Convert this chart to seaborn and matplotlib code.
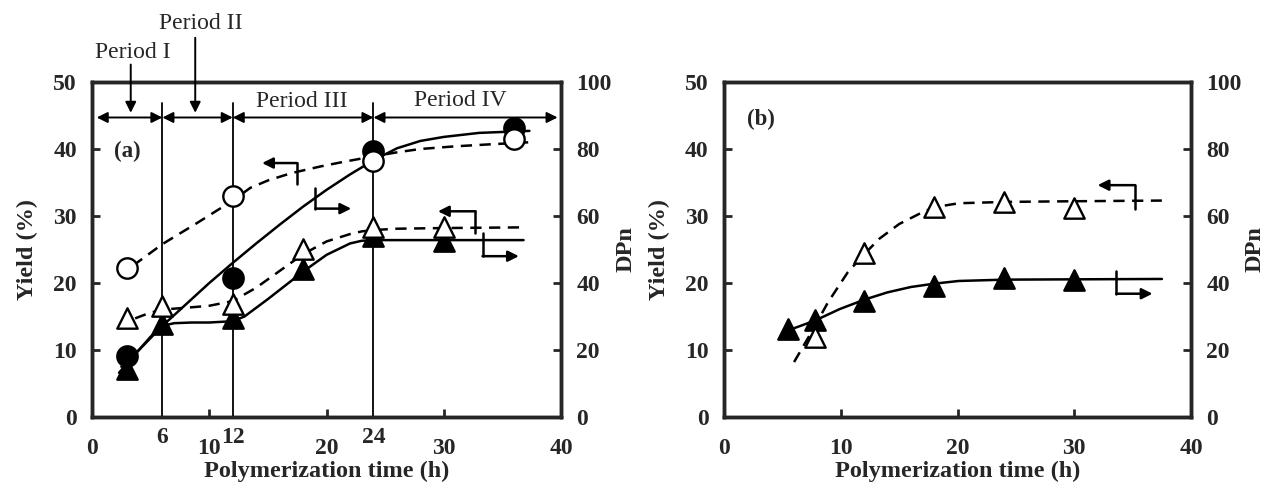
import matplotlib

matplotlib.use("Agg")
import matplotlib.pyplot as plt
import seaborn as sns

# ---------------- panel (a) ----------------
a_t_circle = [3, 12, 24, 36]
a_yield_open_circle = [22.2, 33.0, 38.2, 41.5]
a_dpn_fill_circle = [18.2, 41.4, 79.4, 86.2]

a_t_tri = [3, 6, 12, 18, 24, 30]
a_yield_open_tri = [14.8, 16.6, 16.9, 25.0, 28.4, 28.3]
a_dpn_fill_tri = [14.4, 27.8, 29.6, 44.2, 54.0, 52.4]

# trend curves
a_fit_open_circle_t = [3.5, 6, 9, 12, 13.5, 15, 17, 19.5, 21.5, 24, 26, 28, 31, 34, 37.3]
a_fit_open_circle_y = [22.6, 25.8, 29.0, 32.3, 34.2, 35.3, 36.4, 37.4, 38.1, 38.9, 39.5, 40.0, 40.4, 40.7, 41.0]

a_fit_fill_circle_t = [2.5, 4, 6, 8, 10, 12, 14, 16, 18, 20, 22, 24, 26, 28, 30, 33, 37.3]
a_fit_fill_circle_dpn = [15.0, 20.0, 27.2, 33.6, 40.0, 46.0, 51.8, 57.4, 62.8, 67.8, 72.4, 76.6, 80.2, 82.4, 83.6, 84.8, 85.4]

a_fit_open_tri_t = [2.3, 3.5, 5, 6.5, 8, 10, 12, 14, 16, 18, 20, 22, 23, 24, 26, 30, 36.7]
a_fit_open_tri_y = [13.3, 14.6, 15.6, 16.1, 16.3, 16.6, 17.3, 19.3, 21.8, 24.3, 26.2, 27.3, 27.7, 27.9, 28.1, 28.2, 28.3]

a_fit_fill_tri_t = [2.3, 3.5, 5, 6, 7, 8.5, 10, 12, 13, 15, 18, 20, 22, 23, 24, 27, 36.8]
a_fit_fill_tri_dpn = [13.2, 18.0, 24.0, 27.2, 28.0, 28.2, 28.2, 28.6, 30.0, 35.2, 43.4, 48.4, 51.8, 52.6, 52.8, 52.8, 52.8]

# ---------------- panel (b) ----------------
b_t_open_tri = [7.8, 12, 18, 24, 30]
b_yield_open_tri = [12.0, 24.5, 31.3, 32.1, 31.2]
b_t_fill_tri = [5.5, 7.8, 12, 18, 24, 30]
b_dpn_fill_tri = [26.4, 29.0, 34.6, 39.2, 41.4, 40.8]

b_fit_open_tri_t = [6.0, 7.5, 8.9, 10.6, 11.9, 13.3, 15.0, 16.7, 18.0, 20.1, 24.1, 30, 37.5]
b_fit_open_tri_y = [8.2, 12.7, 17.1, 21.6, 24.1, 26.6, 28.8, 30.3, 31.3, 31.9, 32.1, 32.2, 32.3]

b_fit_fill_tri_t = [5.3, 7.8, 9.9, 12, 14, 16, 18, 20.1, 24.1, 37.5]
b_fit_fill_tri_dpn = [25.6, 28.8, 32.2, 35.0, 37.2, 38.8, 39.8, 40.6, 41.0, 41.2]

DASH = (0, (4.5, 3))
LW = 1.8


def curve(ax, t, y, dashed):
    sns.lineplot(
        x=t, y=y, ax=ax, color="black", linewidth=LW,
        linestyle=DASH if dashed else "-",
        estimator=None, sort=False, zorder=3,
    )


def points(ax, t, y, marker, filled):
    sns.scatterplot(
        x=t, y=y, ax=ax, marker=marker, s=215,
        color="black" if filled else "white",
        edgecolor="black", linewidth=1.7, zorder=5,
    )


def arrow(ax, x0, y0, x1, y1, style="-|>", lw=LW, clip=True):
    ax.annotate(
        "", xy=(x1, y1), xytext=(x0, y0), annotation_clip=clip,
        arrowprops=dict(arrowstyle=style, color="black", lw=lw,
                        shrinkA=0, shrinkB=0, mutation_scale=16),
    )


def bent(ax, x, y_arrow, y_end, x_tip):
    """L shaped pointer: a stub from y_end to y_arrow, then an arrow to x_tip"""
    ax.plot([x, x], [y_end, y_arrow], color="black", lw=LW)
    arrow(ax, x, y_arrow, x_tip, y_arrow)


def setup_axes(ax, ax2, minor=None):
    ax.set_xlim(0, 40)
    ax.set_ylim(0, 50)
    ax2.set_ylim(0, 100)
    ax.set_xticks([0, 10, 20, 30, 40])
    ax.set_yticks([0, 10, 20, 30, 40, 50])
    ax2.set_yticks([0, 20, 40, 60, 80, 100])
    for a in (ax, ax2):
        for sp in a.spines.values():
            sp.set_linewidth(2.5)
            sp.set_visible(True)
    ax.tick_params(axis="x", direction="in", length=5.5, width=2, pad=15,
                   labelsize=17, top=False)
    ax.tick_params(axis="y", direction="in", length=5.5, width=2, pad=11,
                   labelsize=17, right=False)
    ax2.tick_params(axis="y", direction="in", length=5.5, width=2, pad=11,
                    labelsize=17)
    if minor:
        ax.set_xticks(minor, minor=True)
        ax.set_xticklabels([str(m) for m in minor], minor=True)
        ax.tick_params(axis="x", which="minor", length=0, pad=7, labelsize=17)
    ax.set_xlabel("Polymerization time (h)", fontsize=17.5, fontweight="bold")
    ax.set_ylabel("Yield (%)", fontsize=17.5, fontweight="bold")
    ax2.set_ylabel("DPn", fontsize=17.5, fontweight="bold", rotation=90)
    ax.xaxis.set_label_coords(0.5, -0.13)
    ax.yaxis.set_label_coords(-0.115, 0.5)
    ax2.yaxis.set_label_coords(1.115, 0.5)
    # yield axis on top so open symbols cover the DPn lines
    ax.set_zorder(ax2.get_zorder() + 1)
    ax.patch.set_visible(False)


def main():
    sns.set_style("ticks")
    plt.rcParams["font.family"] = ["Liberation Serif", "DejaVu Serif"]
    plt.rcParams["font.weight"] = "bold"

    fig = plt.figure(figsize=(12.66, 4.9), dpi=100)
    ax_a = fig.add_axes([0.0727, 0.149, 0.3705, 0.6837])
    ax_a2 = ax_a.twinx()
    ax_b = fig.add_axes([0.5719, 0.149, 0.3689, 0.6837])
    ax_b2 = ax_b.twinx()

    # ----- (a) -----
    curve(ax_a2, a_fit_fill_circle_t, a_fit_fill_circle_dpn, dashed=False)
    curve(ax_a2, a_fit_fill_tri_t, a_fit_fill_tri_dpn, dashed=False)
    points(ax_a2, a_t_circle, a_dpn_fill_circle, "o", filled=True)
    points(ax_a2, a_t_tri, a_dpn_fill_tri, "^", filled=True)
    curve(ax_a, a_fit_open_circle_t, a_fit_open_circle_y, dashed=True)
    curve(ax_a, a_fit_open_tri_t, a_fit_open_tri_y, dashed=True)
    points(ax_a, a_t_circle, a_yield_open_circle, "o", filled=False)
    points(ax_a, a_t_tri, a_yield_open_tri, "^", filled=False)

    # period boundaries and arrows
    for xb in [6, 12, 24]:
        ax_a.plot([xb, xb], [0, 46.8], color="black", lw=1.3, zorder=2)
    for x0, x1 in [(0.4, 6), (6, 12), (12, 24), (24, 39.7)]:
        arrow(ax_a, x0, 44.7, x1, 44.7, style="<|-|>", lw=1.4)
    ax_a.text(17.9, 47.1, "Period III", ha="center", va="center",
              fontsize=17, fontweight="normal")
    ax_a.text(31.4, 47.3, "Period IV", ha="center", va="center",
              fontsize=17, fontweight="normal")
    ax_a.text(3.5, 54.4, "Period I", ha="center", va="center",
              fontsize=17, fontweight="normal", clip_on=False)
    ax_a.text(9.3, 58.8, "Period II", ha="center", va="center",
              fontsize=17, fontweight="normal", clip_on=False)
    arrow(ax_a, 3.3, 52.6, 3.3, 45.4, lw=1.4, clip=False)
    arrow(ax_a, 8.8, 56.6, 8.8, 45.4, lw=1.4, clip=False)

    bent(ax_a, 17.5, 37.9, 34.7, 14.5)
    bent(ax_a, 19.05, 31.1, 34.2, 22.1)
    bent(ax_a, 32.7, 30.7, 27.5, 29.5)
    bent(ax_a, 33.3, 24.0, 27.5, 36.4)
    ax_a.text(3.0, 39.6, "(a)", ha="center", va="center", fontsize=16.5,
              fontweight="bold")
    setup_axes(ax_a, ax_a2, minor=[6, 12, 24])

    # ----- (b) -----
    curve(ax_b2, b_fit_fill_tri_t, b_fit_fill_tri_dpn, dashed=False)
    points(ax_b2, b_t_fill_tri, b_dpn_fill_tri, "^", filled=True)
    curve(ax_b, b_fit_open_tri_t, b_fit_open_tri_y, dashed=True)
    points(ax_b, b_t_open_tri, b_yield_open_tri, "^", filled=False)
    bent(ax_b, 35.2, 34.6, 31.1, 32.0)
    bent(ax_b, 33.6, 18.4, 21.8, 36.7)
    ax_b.text(3.15, 44.4, "(b)", ha="center", va="center", fontsize=16.5,
              fontweight="bold")
    setup_axes(ax_b, ax_b2)

    fig.savefig("out.png", dpi=100)
    plt.close(fig)


if __name__ == "__main__":
    main()
